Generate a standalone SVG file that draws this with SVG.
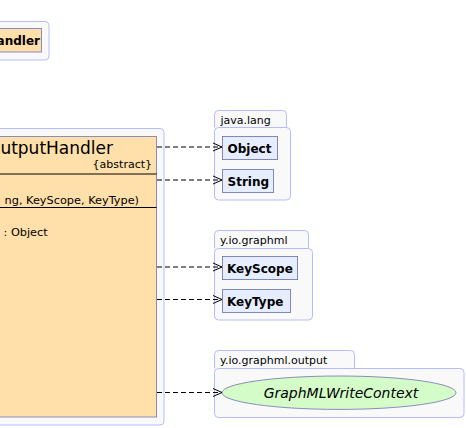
<svg xmlns="http://www.w3.org/2000/svg" width="466" height="428" viewBox="0 0 466 428">
<defs>
<style>
.pkg{fill:#f9f9f9;stroke:#b4bcff;stroke-width:1}
.cls{fill:#ffdfaa;stroke:#8c8cbc;stroke-width:1}
.sm{fill:#e6edff;stroke:#8088bb;stroke-width:1}
.t{font-family:"DejaVu Sans",sans-serif;fill:#000}
.b{font-weight:bold;font-size:12px}
.pl{font-size:11px}
.e{stroke:#000;stroke-width:1;fill:none;stroke-dasharray:5,3}
</style>
<marker id="arr" markerWidth="12" markerHeight="10" refX="10" refY="5" orient="auto" markerUnits="userSpaceOnUse">
<path d="M1,1 L10,5 L1,9" fill="none" stroke="#000" stroke-width="1"/>
</marker>
</defs>
<rect width="466" height="428" fill="#fff"/>
<g id="pkg-top">
<rect class="pkg" x="-10" y="21.5" width="59" height="38.5" rx="4"/>
<rect class="cls" x="-5" y="28.5" width="46.5" height="23.5"/>
<text class="t b" x="40" y="45" text-anchor="end">andler</text>
</g>
<g id="pkg-main">
<rect class="pkg" x="-10" y="128.5" width="174" height="296.5" rx="4"/>
<rect class="cls" x="-5" y="136.5" width="161.5" height="280.5"/>
<text class="t" x="113" y="154" font-size="17" text-anchor="end">utputHandler</text>
<text class="t" x="152" y="168" font-size="11" text-anchor="end">{abstract}</text>
<line x1="-5" y1="174" x2="156.5" y2="174" stroke="#000"/>
<text class="t" x="139" y="204" font-size="11.3" text-anchor="end">ng, KeyScope, KeyType)</text>
<line x1="-5" y1="207.5" x2="156.5" y2="207.5" stroke="#000"/>
<text class="t" x="3.5" y="236" font-size="11.3">: Object</text>
</g>
<g id="pkg-java-lang">
<path class="pkg" d="M214.5,127.5 V114.5 Q214.5,110.5 218.5,110.5 H282.5 Q286.5,110.5 286.5,114.5 V127.5"/>
<rect class="pkg" x="214.5" y="127.5" width="76" height="72.5" rx="4"/>
<text class="t pl" x="220.5" y="124">java.lang</text>
<g id="Object">
<rect class="sm" x="222.5" y="136.5" width="55" height="23"/>
<text class="t b" x="227.5" y="152.5">Object</text>
</g>
<g id="String">
<rect class="sm" x="222.5" y="169.5" width="51" height="23"/>
<text class="t b" x="227.5" y="185.5">String</text>
</g>
</g>
<g id="pkg-graphml">
<path class="pkg" d="M214.5,248.5 V234.5 Q214.5,230.5 218.5,230.5 H304.5 Q308.5,230.5 308.5,234.5 V248.5"/>
<rect class="pkg" x="214.5" y="248.5" width="98" height="71.5" rx="4"/>
<text class="t pl" x="220" y="244">y.io.graphml</text>
<g id="KeyScope">
<rect class="sm" x="222.5" y="256.5" width="75" height="23"/>
<text class="t b" x="227" y="272.5">KeyScope</text>
</g>
<g id="KeyType">
<rect class="sm" x="222.5" y="289.5" width="68" height="23"/>
<text class="t b" x="227" y="305.5">KeyType</text>
</g>
</g>
<g id="pkg-graphml-output">
<path class="pkg" d="M214.5,368.5 V354.5 Q214.5,350.5 218.5,350.5 H350.5 Q354.5,350.5 354.5,354.5 V368.5"/>
<rect class="pkg" x="214.5" y="368.5" width="249.5" height="49" rx="4"/>
<text class="t pl" x="220" y="364">y.io.graphml.output</text>
<g id="GraphMLWriteContext">
<ellipse cx="339" cy="392.7" rx="117" ry="16.7" fill="#d4fcc8" stroke="#8c8cbc"/>
<text class="t" x="341" y="397.5" font-size="14" font-style="italic" text-anchor="middle">GraphMLWriteContext</text>
</g>
</g>
<g id="connectors">
<line class="e" x1="157" y1="147" x2="222" y2="147" marker-end="url(#arr)"/>
<line class="e" x1="157" y1="180" x2="222" y2="180" marker-end="url(#arr)"/>
<line class="e" x1="157" y1="267" x2="222" y2="267" marker-end="url(#arr)"/>
<line class="e" x1="157" y1="299.5" x2="222" y2="299.5" marker-end="url(#arr)"/>
<line class="e" x1="157" y1="392.5" x2="222" y2="392.5" marker-end="url(#arr)"/>
</g>
</svg>
